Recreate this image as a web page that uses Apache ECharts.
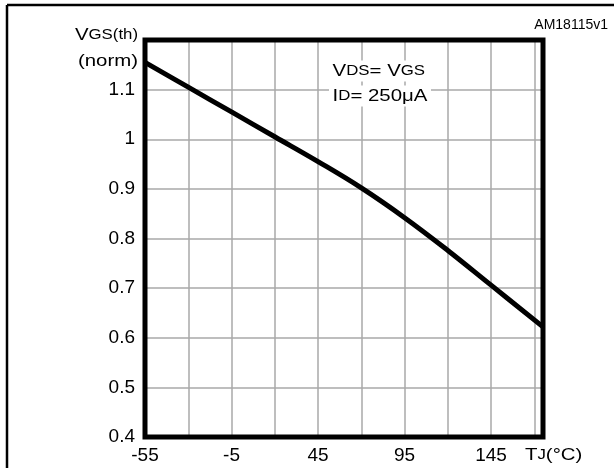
<!DOCTYPE html>
<html>
<head>
<meta charset="utf-8">
<script src="https://cdn.jsdelivr.net/npm/echarts@6/dist/echarts.min.js"></script>
<style>html,body{margin:0;padding:0;background:#fff}#c{width:614px;height:468px}</style>
</head>
<body>
<div id="c"></div>
<script>
var temps = [-55, -30, -5, 20, 45, 70, 95, 120, 145, 175];
var vgsNorm = [1.155, 1.105, 1.055, 1.005, 0.955, 0.902, 0.842, 0.776, 0.706, 0.622];
var xTickLabels = [-55, -5, 45, 95, 145];
var yTickLabels = ['0.4', '0.5', '0.6', '0.7', '0.8', '0.9', '1', '1.1'];

var F = '"Liberation Sans", Arial, sans-serif';
var SX = 1.2;
var big = {fontSize: 17, fontFamily: F, fill: '#000'};
var sub = {fontSize: 14, fontFamily: F, fill: '#000'};
var chart = echarts.init(document.getElementById('c'), null, {renderer: 'canvas'});
chart.setOption({
  animation: false,
  backgroundColor: '#fff',
  grid: {left: 145, top: 40, right: 71, bottom: 31, show: true, borderColor: '#000', borderWidth: 5, backgroundColor: 'transparent', z: 3},
  xAxis: {
    type: 'value', min: -55, max: 175, interval: 25,
    axisLine: {show: false}, axisTick: {show: false},
    splitLine: {show: true, lineStyle: {color: '#a8a8a8', width: 1.5}},
    axisLabel: {
      margin: 9, color: '#000', fontSize: 19, fontFamily: F,
      formatter: function (v) { return xTickLabels.indexOf(Math.round(v)) >= 0 ? String(Math.round(v)) : ''; }
    }
  },
  yAxis: {
    type: 'value', min: 0.4, max: 1.2, interval: 0.1,
    axisLine: {show: false}, axisTick: {show: false},
    splitLine: {show: true, lineStyle: {color: '#a8a8a8', width: 1.5}},
    axisLabel: {
      margin: 10, color: '#000', fontSize: 19, fontFamily: F,
      formatter: function (v) { var s = String(+v.toFixed(1)); return yTickLabels.indexOf(s) >= 0 ? s : ''; }
    }
  },
  series: [{
    type: 'line', data: temps.map(function (t, i) { return [t, vgsNorm[i]]; }),
    smooth: 0.4, showSymbol: false, symbol: 'none', clip: true,
    lineStyle: {color: '#000', width: 5}, z: 4
  }],
  graphic: [
    {type: 'line', shape: {x1: 7, y1: 5, x2: 614, y2: 5}, style: {stroke: '#000', lineWidth: 2.5}},
    {type: 'line', shape: {x1: 7, y1: 5, x2: 7, y2: 468}, style: {stroke: '#000', lineWidth: 2.5}},
    {type: 'text', x: 608, y: 25, style: {text: 'AM18115v1', font: '14px ' + F, fill: '#000', align: 'right', verticalAlign: 'middle'}},
    {type: 'text', x: 138, y: 35, scaleX: SX, style: {text: '{a|V}{b|GS(th)}', align: 'right', verticalAlign: 'middle', rich: {a: big, b: sub}}},
    {type: 'text', x: 138, y: 61, scaleX: SX, style: {text: '(norm)', font: '17px ' + F, fill: '#000', align: 'right', verticalAlign: 'middle'}},
    {type: 'text', x: 525, y: 455, scaleX: SX, style: {text: '{a|T}{b|J}{a|(°C)}', align: 'left', verticalAlign: 'middle', rich: {a: big, b: sub}}},
    {type: 'text', x: 329, y: 71, z: 10, scaleX: SX, style: {text: '{a|V}{b|DS}{a|= V}{b|GS}', align: 'left', verticalAlign: 'middle', backgroundColor: '#fff', padding: [2, 3], rich: {a: big, b: sub}}},
    {type: 'text', x: 329, y: 96, z: 10, scaleX: SX, style: {text: '{a|I}{b|D}{a|= 250μA}', align: 'left', verticalAlign: 'middle', backgroundColor: '#fff', padding: [2, 3], rich: {a: big, b: sub}}}
  ]
});
</script>
</body>
</html>
